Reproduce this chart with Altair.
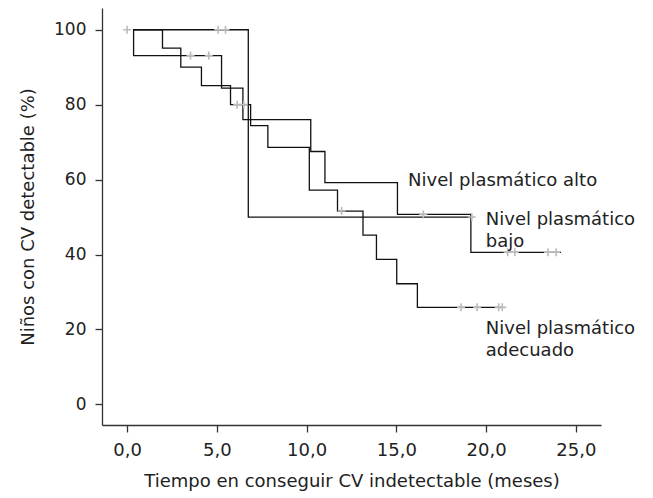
import altair as alt
import pandas as pd

# ---- data (Kaplan-Meier step curves) ----
alto_t = [0.33, 0.36, 5.26, 6.45, 10.23, 11.02, 15.06, 19.15, 24.17]
alto_s = [100, 93.1, 84.4, 76.0, 67.5, 59.2, 50.7, 40.6, 40.6]
adec_t = [0.33, 1.97, 2.99, 4.14, 5.76, 6.88, 7.84, 10.15, 11.72, 13.14, 13.89, 15.02, 16.17, 20.9]
adec_s = [100, 95.1, 90.0, 85.1, 80.0, 74.4, 68.6, 57.2, 51.6, 45.2, 38.7, 32.2, 25.9, 25.9]
bajo_t = [0.33, 6.75, 19.24]
bajo_s = [100, 50.0, 50.0]

# censored observations
cens_alto_t = [3.53, 4.55, 16.5, 21.2, 21.6, 23.45, 23.9]
cens_alto_s = [93.1, 93.1, 50.7, 40.6, 40.6, 40.6, 40.6]
cens_adec_t = [6.13, 6.5, 11.95, 18.6, 19.5, 20.7, 20.9]
cens_adec_s = [80.0, 80.0, 51.6, 25.9, 25.9, 25.9, 25.9]
cens_bajo_t = [0.0, 5.07, 5.48, 19.2]
cens_bajo_s = [100, 100, 100, 50.0]

label_text = ["Nivel plasmático alto", "Nivel plasmático", "bajo", "Nivel plasmático", "adecuado"]
label_x = [15.65, 19.98, 19.98, 19.98, 19.98]
label_y = [58.2, 48.0, 42.1, 18.7, 12.9]

x_ticks = [0, 5, 10, 15, 20, 25]
y_ticks = [0, 20, 40, 60, 80, 100]

# ---- tables ----
lines = pd.concat([
    pd.DataFrame({"t": alto_t, "s": alto_s, "serie": "alto"}),
    pd.DataFrame({"t": adec_t, "s": adec_s, "serie": "adecuado"}),
    pd.DataFrame({"t": bajo_t, "s": bajo_s, "serie": "bajo"}),
], ignore_index=True)
cens = pd.concat([
    pd.DataFrame({"t": cens_alto_t, "s": cens_alto_s, "serie": "alto"}),
    pd.DataFrame({"t": cens_adec_t, "s": cens_adec_s, "serie": "adecuado"}),
    pd.DataFrame({"t": cens_bajo_t, "s": cens_bajo_s, "serie": "bajo"}),
], ignore_index=True)
labels = pd.DataFrame({"text": label_text, "t": label_x, "s": label_y})

FONT = "DejaVu Sans"
TXT = "#222222"

xscale = alt.Scale(domain=[-1.4, 26.4], nice=False, zero=False)
yscale = alt.Scale(domain=[-5.5, 105.8], nice=False, zero=False)

xaxis = alt.Axis(
    values=x_ticks,
    labelExpr="replace(format(datum.value, '.1f'), '.', ',')",
    title="Tiempo en conseguir CV indetectable (meses)",
    grid=False, tickSize=7, labelPadding=9, titlePadding=13,
    labelFontSize=18, titleFontSize=18, labelFont=FONT, titleFont=FONT,
    titleFontWeight="normal", labelColor=TXT, titleColor=TXT,
    domainColor="#333333", tickColor="#333333", domainWidth=1.3, tickWidth=1.3,
)
yaxis = alt.Axis(
    values=y_ticks,
    title="Niños con CV detectable (%)",
    grid=False, tickSize=7, labelPadding=9, titlePadding=16,
    labelFontSize=17, titleFontSize=18, labelFont=FONT, titleFont=FONT,
    titleFontWeight="normal", labelColor=TXT, titleColor=TXT,
    domainColor="#333333", tickColor="#333333", domainWidth=1.3, tickWidth=1.3,
)

line_layer = alt.Chart(lines).mark_line(
    interpolate="step-after", color="#111111", strokeWidth=1.3
).encode(
    x=alt.X("t:Q", scale=xscale, axis=xaxis),
    y=alt.Y("s:Q", scale=yscale, axis=yaxis),
    detail="serie:N",
)

cens_layer = alt.Chart(cens).mark_point(
    shape="M-1,0L1,0M0,-1L0,1", size=64, filled=False,
    stroke="#bbbbbb", strokeWidth=1.6, opacity=1,
).encode(x="t:Q", y="s:Q")

text_layer = alt.Chart(labels).mark_text(
    align="left", baseline="alphabetic", fontSize=18, font=FONT, color=TXT
).encode(x="t:Q", y="s:Q", text="text:N")

chart = alt.layer(line_layer, cens_layer, text_layer).properties(
    width=499, height=417,
    autosize=alt.AutoSizeParams(type="none"),
    padding={"left": 94, "top": 0, "right": 40, "bottom": 70},
).configure(
    background="white",
    view=alt.ViewConfig(stroke=None),
)

chart.save("out.html", embed_options={"renderer": "svg", "actions": False})
